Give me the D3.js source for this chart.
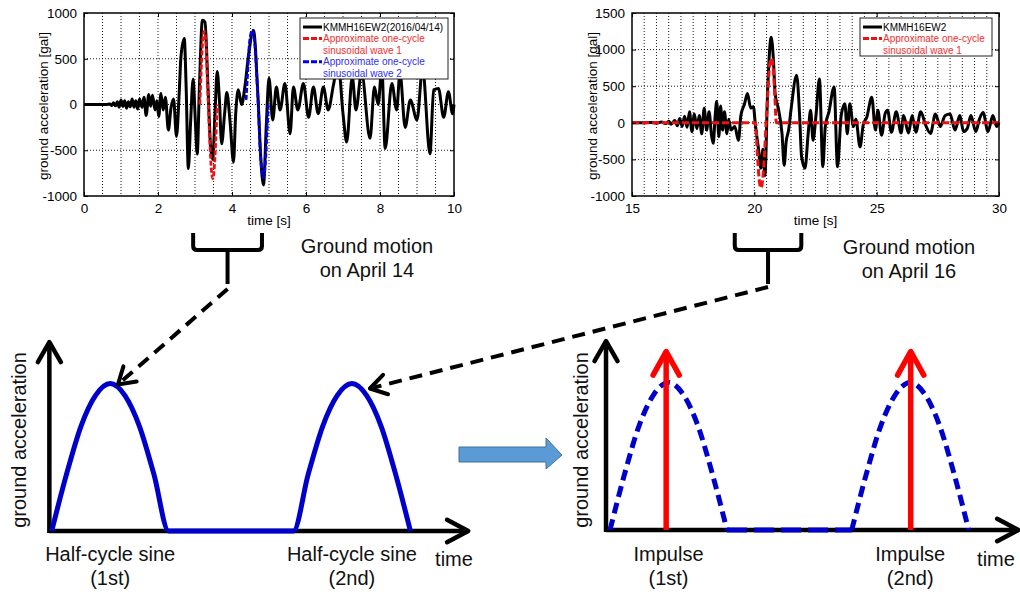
<!DOCTYPE html>
<html>
<head>
<meta charset="utf-8">
<script src="https://cdn.jsdelivr.net/npm/d3@7"></script>
<style>
  body { margin: 0; background: #fff; }
  svg { display: block; }
</style>
</head>
<body>
<svg id="fig" width="1020" height="594"></svg>
<script>
// ---------- Recorded ground acceleration, KMMH16 EW, 2016/04/14 (time s, gal) ----------
const apr14Record = [
  [0,0],[0.6,0],[0.7,5],[0.75,-10],[0.8,20],[0.85,-15],[0.9,30],[0.95,-30],[1.0,50],[1.05,-20],
  [1.1,40],[1.15,-40],[1.2,30],[1.25,-25],[1.3,60],[1.35,-30],[1.4,40],[1.45,-50],[1.5,60],
  [1.57,-30],[1.62,80],[1.68,-120],[1.75,110],[1.8,-20],[1.85,100],[1.92,-60],[1.97,40],
  [2.02,-130],[2.08,120],[2.14,-60],[2.2,80],[2.28,-280],[2.35,-40],[2.42,60],[2.5,-350],
  [2.57,100],[2.62,520],[2.71,720],[2.76,200],[2.82,-700],[2.88,-200],[2.95,280],[3.0,-100],
  [3.06,-540],[3.12,200],[3.2,920],[3.27,900],[3.35,200],[3.42,-450],[3.48,-600],[3.54,-100],
  [3.6,360],[3.66,50],[3.72,-430],[3.8,-100],[3.86,130],[3.95,-200],[4.04,-630],[4.1,-100],
  [4.17,160],[4.26,0],[4.35,200],[4.45,550],[4.58,810],[4.7,100],[4.78,-600],[4.85,-880],
  [4.93,-200],[5.0,290],[5.1,-170],[5.2,190],[5.3,-60],[5.43,230],[5.57,-320],[5.66,190],
  [5.78,-60],[5.93,230],[6.07,-140],[6.2,190],[6.33,-100],[6.47,190],[6.6,-60],[6.74,210],
  [6.87,450],[7.0,-100],[7.1,-410],[7.25,300],[7.35,-60],[7.5,350],[7.73,-370],[7.85,190],
  [7.95,0],[8.05,400],[8.14,-480],[8.32,230],[8.45,-60],[8.54,350],[8.68,-250],[8.82,50],
  [9.0,-170],[9.15,400],[9.35,-540],[9.45,160],[9.58,175],[9.72,-140],[9.85,140],[9.96,-100],[10,0]
];
// Fitted one-cycle sinusoids for the 04/14 record
const apr14Wave1 = [
  [3.13,0],[3.16,300],[3.2,650],[3.25,800],[3.3,650],[3.33,300],[3.36,0],
  [3.4,-400],[3.44,-700],[3.48,-810],[3.52,-700],[3.56,-400],[3.6,0]
];
const apr14Wave2 = [
  [4.38,50],[4.43,400],[4.48,700],[4.55,810],[4.62,650],[4.67,300],[4.71,0],
  [4.75,-400],[4.8,-700],[4.85,-800],[4.9,-650],[4.94,-350],[4.98,0]
];

// ---------- Recorded ground acceleration, KMMH16 EW, 2016/04/16 (time s, gal) ----------
const apr16Record = [
  [15,0],[15.5,0],[15.8,5],[16.0,-5],[16.2,10],[16.4,-10],[16.5,20],[16.6,-20],[16.75,30],
  [16.85,-40],[16.95,60],[17.05,-50],[17.15,90],[17.25,-60],[17.35,150],[17.45,-120],
  [17.55,120],[17.65,-80],[17.75,100],[17.85,-150],[17.95,200],[18.05,-100],[18.15,150],
  [18.25,-170],[18.32,-280],[18.4,100],[18.46,290],[18.55,-190],[18.62,230],[18.7,-100],
  [18.78,150],[18.88,-150],[18.95,50],[19.05,-100],[19.2,-50],[19.35,-240],[19.45,100],
  [19.6,260],[19.72,400],[19.85,200],[19.96,220],[20.05,-50],[20.16,-330],[20.27,-620],
  [20.35,-360],[20.43,-720],[20.55,500],[20.69,1170],[20.78,860],[20.85,400],[20.99,180],
  [21.13,-140],[21.22,-580],[21.3,-260],[21.4,-100],[21.5,180],[21.73,650],[21.85,100],
  [21.93,-460],[22.07,-620],[22.2,-150],[22.3,170],[22.4,-240],[22.52,100],[22.66,600],
  [22.8,-600],[22.9,-50],[23.05,150],[23.26,490],[23.4,-600],[23.55,100],[23.7,260],
  [23.8,-150],[23.9,260],[24.05,-50],[24.15,50],[24.32,-330],[24.45,-30],[24.6,80],
  [24.8,350],[24.95,-100],[25.05,170],[25.2,-170],[25.35,130],[25.45,170],[25.6,-130],
  [25.8,150],[26.0,-140],[26.1,100],[26.3,-140],[26.45,100],[26.6,-130],[26.8,150],
  [27.0,-30],[27.2,-145],[27.4,120],[27.6,-50],[27.8,100],[28.0,120],[28.2,-100],[28.4,100],
  [28.55,-120],[28.7,-80],[28.85,100],[29.05,-120],[29.2,50],[29.35,140],[29.55,-120],
  [29.75,100],[29.9,-50],[30,0]
];
const apr16Wave1 = [
  [15,0],[20.05,0],[20.12,-400],[20.2,-780],[20.27,-890],[20.34,-780],[20.42,-400],[20.48,0],
  [20.55,400],[20.62,780],[20.7,880],[20.77,750],[20.84,350],[20.9,0],[30,0]
];

// Axis ticks
const apr14TimeTicks = [0, 2, 4, 6, 8, 10];
const apr14AccelTicks = [-1000, -500, 0, 500, 1000];
const apr16TimeTicks = [15, 20, 25, 30];
const apr16AccelTicks = [-1000, -500, 0, 500, 1000, 1500];

// ---------- Idealised pulse models (normalised time, normalised acceleration) ----------
const halfSineShape = [
  [0,0],[0.125,0.38],[0.25,0.71],[0.375,0.92],[0.5,1],[0.625,0.92],[0.75,0.71],[0.875,0.38],[1,0]
];
const pulseStarts = [0, 2.066];
const impulseTimes = [0.48, 2.57];
const impulseHeight = 1.21;
const pulseLabels = ["Half-cycle sine", "Impulse"];
const pulseOrder = ["(1st)", "(2nd)"];

// ---------------------------------------------------------------------------
const FONT = "'Liberation Sans', Arial, Helvetica, sans-serif";
const fig = d3.select("#fig");
const RED = "#ee1111", BLUE = "#0000ee", DIAG_BLUE = "#0000cc";

function recordPanel(cfg) {
  const b = cfg.box;
  const x = d3.scaleLinear().domain(cfg.xDomain).range([b.left, b.right]);
  const y = d3.scaleLinear().domain(cfg.yDomain).range([b.bottom, b.top]);
  const g = fig.append("g");

  // dotted grid
  const grid = g.append("g").attr("stroke", "#000").attr("stroke-width", 0.9)
    .attr("stroke-dasharray", "1,2");
  grid.selectAll("line.v").data(d3.range(cfg.xDomain[0] + 0.5, cfg.xDomain[1], 0.5))
    .join("line").attr("class", "v")
    .attr("x1", d => x(d)).attr("x2", d => x(d)).attr("y1", b.top).attr("y2", b.bottom);
  grid.selectAll("line.h").data(cfg.yTicks.slice(1, -1))
    .join("line").attr("class", "h")
    .attr("y1", d => y(d)).attr("y2", d => y(d)).attr("x1", b.left).attr("x2", b.right);

  // traces
  const line = d3.line().x(d => x(d[0])).y(d => y(d[1])).curve(d3.curveMonotoneX);
  cfg.series.forEach(s => {
    g.append("path").datum(s.data).attr("d", line).attr("fill", "none")
      .attr("stroke", s.color).attr("stroke-width", s.width)
      .attr("stroke-dasharray", s.dash || null).attr("stroke-linejoin", "round");
  });

  // axes with inward ticks
  const fmt = d => String(d);
  const axes = [
    g.append("g").attr("transform", `translate(0,${b.bottom})`)
      .call(d3.axisBottom(x).tickValues(cfg.xTicks).tickSize(-4).tickPadding(7).tickFormat(fmt)),
    g.append("g").attr("transform", `translate(0,${b.top})`)
      .call(d3.axisTop(x).tickValues(cfg.xTicks).tickSize(-4).tickFormat("")),
    g.append("g").attr("transform", `translate(${b.left},0)`)
      .call(d3.axisLeft(y).tickValues(cfg.yTicks).tickSize(-4).tickPadding(7).tickFormat(fmt)),
    g.append("g").attr("transform", `translate(${b.right},0)`)
      .call(d3.axisRight(y).tickValues(cfg.yTicks).tickSize(-4).tickFormat(""))
  ];
  axes.forEach(a => {
    a.attr("font-size", 13.5).attr("font-family", FONT);
    a.select(".domain").remove();
    a.selectAll(".tick line").attr("stroke", "#000").attr("stroke-width", 1);
    a.selectAll(".tick text").attr("fill", "#000");
  });

  // frame
  g.append("rect").attr("x", b.left).attr("y", b.top)
    .attr("width", b.right - b.left).attr("height", b.bottom - b.top)
    .attr("fill", "none").attr("stroke", "#000").attr("stroke-width", 1.5);

  // axis titles
  g.append("text").attr("x", (b.left + b.right) / 2).attr("y", 225)
    .attr("text-anchor", "middle").attr("font-family", FONT).attr("font-size", 13.5)
    .text("time [s]");
  g.append("text")
    .attr("transform", `translate(${cfg.yTitleX},106) rotate(-90)`)
    .attr("text-anchor", "middle").attr("dy", "0.35em")
    .attr("font-family", FONT).attr("font-size", 13.5)
    .text("ground acceleration [gal]");

  // legend
  const L = cfg.legend;
  const lg = g.append("g");
  lg.append("rect").attr("x", L.x).attr("y", L.y).attr("width", L.w).attr("height", L.h)
    .attr("fill", "#fff").attr("stroke", "#222").attr("stroke-width", 1);
  L.rows.forEach((r, i) => {
    const cy = L.y + 9 + i * 11.6;
    if (r.color && r.line) {
      lg.append("line").attr("x1", L.x + 3).attr("x2", L.x + 22).attr("y1", cy).attr("y2", cy)
        .attr("stroke", r.color).attr("stroke-width", 3)
        .attr("stroke-dasharray", r.dash || null);
    }
    lg.append("text").attr("x", L.x + 23).attr("y", cy + 3.6)
      .attr("font-family", FONT).attr("font-size", 10)
      .attr("fill", r.textColor).text(r.text);
  });
  return x;
}

const xApr14 = recordPanel({
  box: { left: 84, right: 454, top: 13, bottom: 196 },
  xDomain: [0, 10], yDomain: [-1000, 1000],
  xTicks: apr14TimeTicks, yTicks: apr14AccelTicks,
  yTitleX: 43,
  series: [
    { data: apr14Record, color: "#000", width: 3 },
    { data: apr14Wave1, color: RED, width: 2.8, dash: "5,2" },
    { data: apr14Wave2, color: BLUE, width: 2.8, dash: "5,2" }
  ],
  legend: {
    x: 300, y: 18, w: 148, h: 61,
    rows: [
      { text: "KMMH16EW2(2016/04/14)", color: "#000", textColor: "#000", line: true },
      { text: "Approximate one-cycle", color: RED, textColor: "#f03030", line: true, dash: "6,2" },
      { text: "sinusoidal wave 1", textColor: "#f03030" },
      { text: "Approximate one-cycle", color: BLUE, textColor: "#3030f0", line: true, dash: "6,2" },
      { text: "sinusoidal wave 2", textColor: "#3030f0" }
    ]
  }
});

const xApr16 = recordPanel({
  box: { left: 632, right: 999, top: 13, bottom: 196 },
  xDomain: [15, 30], yDomain: [-1000, 1500],
  xTicks: apr16TimeTicks, yTicks: apr16AccelTicks,
  yTitleX: 592,
  series: [
    { data: apr16Record, color: "#000", width: 3 },
    { data: apr16Wave1, color: RED, width: 3, dash: "7,3" }
  ],
  legend: {
    x: 860, y: 18, w: 132, h: 38,
    rows: [
      { text: "KMMH16EW2", color: "#000", textColor: "#000", line: true },
      { text: "Approximate one-cycle", color: RED, textColor: "#f03030", line: true, dash: "6,2" },
      { text: "sinusoidal wave 1", textColor: "#f03030" }
    ]
  }
});

// ---------- helpers for the schematic part ----------
function chevron(g, tip, from, len, angleDeg, color, width) {
  const a = Math.atan2(from[1] - tip[1], from[0] - tip[0]);
  const t = angleDeg * Math.PI / 180;
  const p1 = [tip[0] + len * Math.cos(a + t), tip[1] + len * Math.sin(a + t)];
  const p2 = [tip[0] + len * Math.cos(a - t), tip[1] + len * Math.sin(a - t)];
  g.append("path").attr("d", d3.line()([p1, tip, p2]))
    .attr("fill", "none").attr("stroke", color).attr("stroke-width", width)
    .attr("stroke-linecap", "round").attr("stroke-linejoin", "round");
}

function textLine(g, x, y, txt, size, anchor) {
  return g.append("text").attr("x", x).attr("y", y).attr("text-anchor", anchor || "middle")
    .attr("font-family", FONT).attr("font-size", size).attr("fill", "#111").text(txt);
}

// brackets marking the analysed window of each record, with dashed pointers
function bracket(g, xs, top, bottom, stemEnd) {
  const [l, r] = xs, m = (l + r) / 2, rad = 4;
  const p = d3.path();
  p.moveTo(l, top); p.lineTo(l, bottom - rad);
  p.quadraticCurveTo(l, bottom, l + rad, bottom);
  p.lineTo(r - rad, bottom);
  p.quadraticCurveTo(r, bottom, r, bottom - rad);
  p.lineTo(r, top);
  p.moveTo(m, bottom); p.lineTo(m, stemEnd);
  g.append("path").attr("d", p.toString()).attr("fill", "none")
    .attr("stroke", "#000").attr("stroke-width", 4).attr("stroke-linejoin", "round");
  return m;
}

function pulsePanel(cfg) {
  const g = fig.append("g");
  const x = d3.scaleLinear().domain([0, 1]).range([cfg.x0, cfg.x0 + 117]);
  const y = d3.scaleLinear().domain([0, 1]).range([cfg.y0, cfg.y0 - 147.5]);
  const ax = cfg.axisT, ayTop = 1.28;

  // axes
  g.append("line").attr("x1", x(ax[0])).attr("x2", x(ax[1])).attr("y1", y(0)).attr("y2", y(0))
    .attr("stroke", "#000").attr("stroke-width", 4.5);
  g.append("line").attr("x1", x(ax[0])).attr("x2", x(ax[0])).attr("y1", y(0) + 2).attr("y2", y(ayTop))
    .attr("stroke", "#000").attr("stroke-width", 4.5);
  chevron(g, [x(ax[1]), y(0)], [x(ax[0]), y(0)], 24, 28, "#000", 4.5);
  chevron(g, [x(ax[0]), y(ayTop)], [x(ax[0]), y(0)], 23, 30, "#000", 4.5);

  // pulse train
  const line = d3.line().x(d => x(d[0])).y(d => y(d[1])).curve(d3.curveMonotoneX);
  const humps = pulseStarts.map(s => halfSineShape.map(d => [d[0] + s, d[1]]));
  const gap = [[pulseStarts[0] + 1, 0], [pulseStarts[1], 0]];
  if (cfg.dashed) {
    humps.forEach(h => g.append("path").datum(h).attr("d", line).attr("fill", "none")
      .attr("stroke", DIAG_BLUE).attr("stroke-width", 5).attr("stroke-dasharray", "11,6"));
    g.append("path").datum(gap).attr("d", d3.line().x(d => x(d[0])).y(d => y(d[1])))
      .attr("stroke", DIAG_BLUE).attr("stroke-width", 5).attr("stroke-dasharray", "20,7");
  } else {
    const all = humps[0].concat(humps[1]);
    g.append("path").datum(all).attr("d", line).attr("fill", "none")
      .attr("stroke", DIAG_BLUE).attr("stroke-width", 5).attr("stroke-linejoin", "round");
  }

  // impulses
  if (cfg.impulses) {
    impulseTimes.forEach(t => {
      g.append("line").attr("x1", x(t)).attr("x2", x(t)).attr("y1", y(0)).attr("y2", y(impulseHeight))
        .attr("stroke", "#ff0000").attr("stroke-width", 5.5);
      chevron(g, [x(t), y(impulseHeight)], [x(t), y(0)], 27, 29, "#ff0000", 5.5);
    });
  }

  // labels
  pulseStarts.forEach((s, i) => {
    textLine(g, x(s + 0.5), 560.5, cfg.label, 20);
    textLine(g, x(s + 0.5), 585, pulseOrder[i], 20);
  });
  textLine(g, cfg.timeX, 566, "time", 20);
  g.append("text").attr("transform", `translate(${cfg.yTitleX},440) rotate(-90)`)
    .attr("text-anchor", "middle").attr("dy", "0.35em")
    .attr("font-family", FONT).attr("font-size", 20).attr("fill", "#111")
    .text("ground acceleration");
  return { x, y };
}

const sinePanel = pulsePanel({ x0: 51.7, y0: 531, axisT: [-0.02, 3.56], dashed: false,
  impulses: false, label: pulseLabels[0], timeX: 454, yTitleX: 18.5 });
const impulsePanel = pulsePanel({ x0: 610, y0: 530, axisT: [-0.034, 3.49], dashed: true,
  impulses: true, label: pulseLabels[1], timeX: 996, yTitleX: 580.5 });

// annotation layer
const ann = fig.append("g");
const m14 = bracket(ann, [xApr14(2.95), xApr14(4.81)], 233, 250, 284);
const m16 = bracket(ann, [xApr16(19.2), xApr16(21.92)], 233, 250, 284);

textLine(ann, 367, 252.5, "Ground motion", 20);
textLine(ann, 367, 277, "on April 14", 20);
textLine(ann, 909, 253.5, "Ground motion", 20);
textLine(ann, 909, 278, "on April 16", 20);

function dashedPointer(from, to) {
  ann.append("line").attr("x1", from[0]).attr("y1", from[1]).attr("x2", to[0]).attr("y2", to[1])
    .attr("stroke", "#000").attr("stroke-width", 4).attr("stroke-dasharray", "13,8");
  chevron(ann, to, from, 19, 32, "#000", 4);
}
dashedPointer([m14, 289], [sinePanel.x(0.6) - 4, sinePanel.y(1) + 1]);
dashedPointer([m16, 287], [sinePanel.x(pulseStarts[1] + 0.5) + 18, sinePanel.y(1) + 5]);

// block arrow between the two models
const blockArrow = [[459, 447], [546, 447], [546, 438], [562, 455], [546, 469], [546, 462], [459, 462]];
fig.append("path").attr("d", d3.line()(blockArrow) + "Z")
  .attr("fill", "#5b9bd5").attr("stroke", "#41719c").attr("stroke-width", 1);
</script>
</body>
</html>
